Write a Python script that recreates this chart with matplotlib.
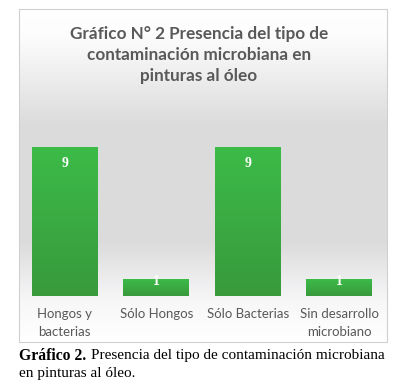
import numpy as np
import matplotlib.pyplot as plt
from matplotlib.colors import LinearSegmentedColormap

categories = ['Hongos y\nbacterias', 'Sólo Hongos', 'Sólo Bacterias', 'Sin desarrollo\nmicrobiano']
values = [9, 1, 9, 1]
title = 'Gráfico N° 2 Presencia del tipo de\ncontaminación microbiana en\npinturas al óleo'

W, H = 406, 391
fig = plt.figure(figsize=(W / 100, H / 100), dpi=100)

# background panel with vertical gradient
bg = fig.add_axes([0, 0, 1, 1])
bg.set_xlim(0, W)
bg.set_ylim(H, 0)
bg.axis('off')
ys = np.linspace(0, 1, 200)
grad_pts = [0.0, 0.08, 0.35, 0.7, 0.88, 1.0]
grad_val = [1.0, 0.99, 0.86, 0.86, 0.97, 1.0]
g = np.interp(ys, grad_pts, grad_val)
img = np.dstack([g, g, g * 1.005]).clip(0, 1).reshape(200, 1, 3)
bg.imshow(img, extent=(19, 387, 342, 9), aspect='auto', zorder=0)
bg.plot([19, 387, 387, 19, 19], [9, 9, 342, 342, 9], color='#d0d0d0', lw=0.8, zorder=1)

# bars
ax = fig.add_axes([19 / W, 1 - 296 / H, (385 - 19) / W, (296 - 100) / H])
ax.set_xlim(-0.5, 3.5)
ax.set_ylim(0, (296 - 100) / 16.55)
ax.patch.set_alpha(0)
x = np.arange(len(values))
bars = ax.bar(x, values, width=0.72, color='#3aaa44', zorder=2)
green = LinearSegmentedColormap.from_list('g', ['#389a3c', '#3cbb48'])
gimg = np.linspace(0, 1, 100).reshape(-1, 1)
for b in bars:
    bx, bw, bh = b.get_x(), b.get_width(), b.get_height()
    im = ax.imshow(gimg, cmap=green, origin='lower', aspect='auto',
                   extent=(bx, bx + bw, 0, bh), zorder=3)
    im.set_clip_path(b)
for xi, v in zip(x, values):
    ax.text(xi, v - 1.0 if v > 1 else v - 0.12, str(v), ha='center', va='center',
            color='white', fontsize=10, fontweight='bold', family='Liberation Serif', zorder=4)
ax.set_xticks(x)
ax.set_xticklabels(categories, fontsize=9.5, color='#595959', family='Lato', linespacing=1.5)
ax.tick_params(axis='x', length=0, pad=9)
ax.set_yticks([])
for s in ax.spines.values():
    s.set_visible(False)

fig.text(199 / W, 1 - 55 / H, title, ha='center', va='center', fontsize=12.3,
         fontweight='bold', color='#595959', family='Lato', linespacing=1.4)

fig.text(19 / W, 1 - 356 / H, 'Gráfico 2.', ha='left', va='center', fontsize=11.3,
         fontweight='bold', family='Liberation Serif', color='black')
fig.text(91 / W, 1 - 356 / H, 'Presencia del tipo de contaminación microbiana',
         ha='left', va='center', fontsize=11.0, family='Liberation Serif', color='black')
fig.text(19 / W, 1 - 373 / H, 'en pinturas al óleo.', ha='left', va='center',
         fontsize=11.0, family='Liberation Serif', color='black')

fig.savefig('out.png', dpi=100)
